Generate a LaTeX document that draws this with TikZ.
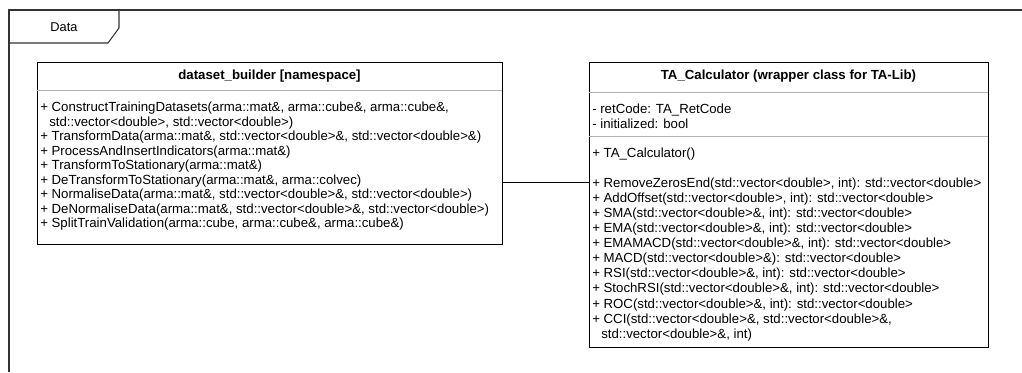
\documentclass[tikz,border=0pt]{standalone}
\usepackage{fontspec}
\setmainfont{Liberation Sans}
\begin{document}
\begin{tikzpicture}[x=0.75pt,y=-0.75pt,
  frameline/.style={draw=black!80, line width=0.8pt},
  classbox/.style={draw=black, line width=0.75pt, fill=white, inner sep=0pt, outer sep=0pt, anchor=north west},
  sepline/.style={draw=black!30, line width=0.75pt},
  member/.style={anchor=base west, inner sep=0pt, font=\fontsize{9.92}{11}\selectfont},
  boxtitle/.style={inner sep=0pt, font=\bfseries\fontsize{9.92}{11}\selectfont},
  pkglabel/.style={inner sep=0pt, font=\fontsize{9.6}{11}\selectfont}]
\useasboundingbox (0,0) rectangle (1022,372);

% package frame with its name tab
\draw[frameline] (1022,10) -- (9,10) -- (9,372);
\draw[frameline] (9,43) -- (108,43) -- (119,28) -- (119,10);
\node[pkglabel] (pkg) at (64,27) {Data};

% namespace dataset_builder
\node[classbox, minimum width=348.75pt, minimum height=136.5pt] (db) at (37,62) {};
\node[boxtitle] (dbtitle) at (269.5,76) {dataset\_builder [namespace]};
\draw[sepline] (db.west |- 0,90) -- (db.east |- 0,90);
\foreach \y/\x/\t [count=\i] in {
  107/40/{+ ConstructTrainingDatasets(arma::mat\&, arma::cube\&, arma::cube\&,},
  121.5/49/{std::vector<double>, std::vector<double>)},
  136/40/{+ TransformData(arma::mat\&, std::vector<double>\&, std::vector<double>\&)},
  150.5/40/{+ ProcessAndInsertIndicators(arma::mat\&)},
  165/40/{+ TransformToStationary(arma::mat\&)},
  179.5/40/{+ DeTransformToStationary(arma::mat\&, arma::colvec)},
  194/40/{+ NormaliseData(arma::mat\&, std::vector<double>\&, std::vector<double>)},
  208.5/40/{+ DeNormaliseData(arma::mat\&, std::vector<double>\&, std::vector<double>)},
  223/40/{+ SplitTrainValidation(arma::cube, arma::cube\&, arma::cube\&)}}
  \node[member] (dbop\i) at (\x,\y+4.7) {\t};

% class TA_Calculator
\node[classbox, minimum width=299.25pt, minimum height=213.75pt] (ta) at (589,62) {};
\node[boxtitle] (tatitle) at (788.5,76) {TA\_Calculator (wrapper class for TA-Lib)};
\draw[sepline] (ta.west |- 0,92) -- (ta.east |- 0,92);
\draw[sepline] (ta.west |- 0,136) -- (ta.east |- 0,136);
\node[member] (taattr1) at (592,109+4.7) {- retCode: TA\_RetCode};
\node[member] (taattr2) at (592,123.5+4.7) {- initialized: bool};
\node[member] (tactor) at (592,152.5+4.7) {+ TA\_Calculator()};
\foreach \y/\x/\t [count=\i] in {
  182.5/592/{+ RemoveZerosEnd(std::vector<double>, int): std::vector<double>},
  197.6/592/{+ AddOffset(std::vector<double>, int): std::vector<double>},
  212.7/592/{+ SMA(std::vector<double>\&, int): std::vector<double>},
  227.8/592/{+ EMA(std::vector<double>\&, int): std::vector<double>},
  242.9/592/{+ EMAMACD(std::vector<double>\&, int): std::vector<double>},
  258/592/{+ MACD(std::vector<double>\&): std::vector<double>},
  273.1/592/{+ RSI(std::vector<double>\&, int): std::vector<double>},
  288.2/592/{+ StochRSI(std::vector<double>\&, int): std::vector<double>},
  303.3/592/{+ ROC(std::vector<double>\&, int): std::vector<double>},
  318.4/592/{+ CCI(std::vector<double>\&, std::vector<double>\&,},
  333.5/601/{std::vector<double>\&, int)}}
  \node[member] (taop\i) at (\x,\y+4.7) {\t};

% association between the two
\coordinate (link) at (0,182.5);
\draw[line width=0.75pt] (db.east |- link) -- (ta.west |- link);
\end{tikzpicture}
\end{document}
